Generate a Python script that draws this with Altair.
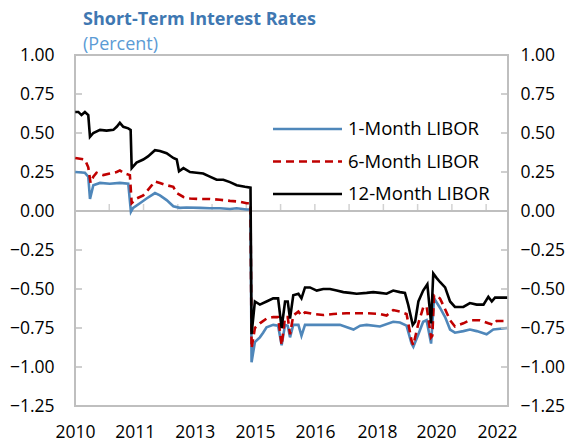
import altair as alt
import pandas as pd

FONT = "Open Sans"

title_text = "Short-Term Interest Rates"
subtitle_text = "(Percent)"
series_names = ["1-Month LIBOR", "6-Month LIBOR", "12-Month LIBOR"]
series_colors = ["#4F87BA", "#C00000", "#000000"]

# 1-Month LIBOR (percent)
m1_dates = [
    "2010-01-04", "2010-04-15", "2010-05-20", "2010-06-07", "2010-07-12", "2010-09-20",
    "2011-01-01", "2011-04-16", "2011-07-13", "2011-08-10", "2011-09-02", "2011-11-12",
    "2012-01-21", "2012-04-18", "2012-06-09", "2012-08-18", "2012-10-27", "2013-01-04",
    "2013-03-14", "2013-08-03", "2013-11-14", "2014-02-28", "2014-06-13", "2014-08-22",
    "2014-12-05", "2015-01-14", "2015-01-25", "2015-03-01", "2015-04-22", "2015-05-26",
    "2015-07-01", "2015-09-09", "2015-10-30", "2015-12-06", "2016-01-11", "2016-02-08",
    "2016-03-03", "2016-04-06", "2016-05-30", "2016-07-01", "2016-08-07", "2017-02-14",
    "2017-08-08", "2017-12-28", "2018-03-08", "2018-05-15", "2018-10-01", "2019-02-17",
    "2019-04-29", "2019-07-07", "2019-08-28", "2019-09-16", "2019-11-08", "2019-12-28",
    "2020-02-02", "2020-03-20", "2020-04-20", "2020-06-21", "2020-08-14", "2020-10-05",
    "2020-11-25", "2021-02-21", "2021-05-01", "2021-07-11", "2021-10-23", "2022-01-01",
    "2022-05-26",
]
m1_values = [
    0.25, 0.245, 0.22, 0.077, 0.165, 0.18,
    0.175, 0.18, 0.175, -0.005, 0.02, 0.05,
    0.08, 0.115, 0.10, 0.07, 0.03, 0.02,
    0.022, 0.02, 0.018, 0.018, 0.013, 0.018,
    0.01, 0.01, -0.97, -0.84, -0.81, -0.78,
    -0.745, -0.73, -0.735, -0.86, -0.73, -0.735,
    -0.81, -0.73, -0.73, -0.80, -0.73, -0.73,
    -0.73, -0.76, -0.735, -0.73, -0.74, -0.71,
    -0.715, -0.735, -0.85, -0.87, -0.79, -0.71,
    -0.70, -0.85, -0.56, -0.62, -0.68, -0.76,
    -0.78, -0.77, -0.76, -0.77, -0.79, -0.76,
    -0.75,
]

# 6-Month LIBOR (percent)
m6_dates = [
    "2010-01-04", "2010-02-22", "2010-04-15", "2010-05-20", "2010-06-13", "2010-07-12",
    "2010-08-15", "2010-10-24", "2011-01-01", "2011-03-14", "2011-04-16", "2011-06-06",
    "2011-07-30", "2011-08-18", "2011-10-08", "2011-12-17", "2012-02-05", "2012-04-18",
    "2012-06-09", "2012-08-18", "2012-10-27", "2012-12-02", "2013-02-10", "2013-04-20",
    "2013-08-03", "2013-11-14", "2014-02-28", "2014-06-13", "2014-09-25", "2014-12-05",
    "2015-01-14", "2015-01-25", "2015-03-01", "2015-04-22", "2015-07-01", "2015-09-09",
    "2015-10-30", "2015-12-06", "2016-01-11", "2016-02-08", "2016-03-03", "2016-04-06",
    "2016-05-30", "2016-07-01", "2016-08-07", "2016-11-02", "2017-02-14", "2017-05-31",
    "2017-10-17", "2018-01-30", "2018-05-15", "2018-10-01", "2018-12-10", "2019-02-17",
    "2019-04-29", "2019-07-07", "2019-08-28", "2019-09-16", "2019-11-08", "2019-12-28",
    "2020-02-02", "2020-03-20", "2020-04-02", "2020-04-20", "2020-06-21", "2020-08-14",
    "2020-10-05", "2020-11-25", "2021-02-21", "2021-05-01", "2021-08-15", "2021-11-10",
    "2022-01-01", "2022-02-05", "2022-05-26",
]
m6_values = [
    0.34, 0.335, 0.33, 0.28, 0.18, 0.22,
    0.245, 0.23, 0.24, 0.25, 0.26, 0.24,
    0.23, 0.05, 0.08, 0.10, 0.135, 0.19,
    0.18, 0.165, 0.155, 0.115, 0.09, 0.08,
    0.077, 0.077, 0.072, 0.065, 0.06, 0.05,
    0.05, -0.88, -0.75, -0.72, -0.69, -0.68,
    -0.68, -0.86, -0.68, -0.68, -0.79, -0.67,
    -0.645, -0.67, -0.65, -0.66, -0.667, -0.66,
    -0.655, -0.655, -0.655, -0.66, -0.67, -0.635,
    -0.645, -0.66, -0.83, -0.86, -0.72, -0.62,
    -0.61, -0.81, -0.80, -0.54, -0.56, -0.63,
    -0.70, -0.74, -0.72, -0.70, -0.70, -0.72,
    -0.73, -0.705, -0.705,
]

# 12-Month LIBOR (percent)
m12_dates = [
    "2010-01-04", "2010-02-05", "2010-03-10", "2010-04-15", "2010-05-20", "2010-06-07",
    "2010-07-12", "2010-09-20", "2010-11-28", "2011-02-07", "2011-03-14", "2011-04-16",
    "2011-05-22", "2011-07-13", "2011-08-07", "2011-08-18", "2011-10-08", "2011-12-17",
    "2012-02-05", "2012-04-18", "2012-06-09", "2012-08-18", "2012-10-27", "2012-12-02",
    "2012-12-26", "2013-02-10", "2013-04-20", "2013-06-28", "2013-09-05", "2013-11-14",
    "2014-01-24", "2014-04-04", "2014-06-13", "2014-08-22", "2014-11-17", "2015-01-14",
    "2015-01-25", "2015-03-01", "2015-04-22", "2015-07-01", "2015-09-09", "2015-10-30",
    "2015-12-06", "2016-01-11", "2016-02-08", "2016-03-03", "2016-04-06", "2016-05-30",
    "2016-07-01", "2016-08-07", "2016-09-28", "2016-12-08", "2017-02-14", "2017-04-26",
    "2017-07-05", "2017-09-13", "2017-11-22", "2018-01-30", "2018-05-15", "2018-07-23",
    "2018-10-01", "2018-12-10", "2019-02-17", "2019-04-29", "2019-06-20", "2019-07-24",
    "2019-09-10", "2019-10-05", "2019-11-08", "2019-12-28", "2020-02-10", "2020-03-20",
    "2020-04-12", "2020-05-18", "2020-06-21", "2020-08-14", "2020-10-05", "2020-11-25",
    "2021-02-21", "2021-05-01", "2021-07-11", "2021-09-20", "2021-11-10", "2021-12-16",
    "2022-01-19", "2022-05-26",
]
m12_values = [
    0.635, 0.635, 0.615, 0.635, 0.615, 0.475,
    0.50, 0.52, 0.515, 0.52, 0.54, 0.565,
    0.54, 0.53, 0.52, 0.275, 0.31, 0.33,
    0.35, 0.39, 0.385, 0.37, 0.34, 0.33,
    0.255, 0.275, 0.25, 0.245, 0.24, 0.22,
    0.20, 0.20, 0.185, 0.165, 0.155, 0.15,
    -0.79, -0.58, -0.60, -0.58, -0.56, -0.56,
    -0.75, -0.58, -0.58, -0.69, -0.54, -0.53,
    -0.56, -0.49, -0.49, -0.51, -0.50, -0.50,
    -0.51, -0.52, -0.525, -0.53, -0.525, -0.52,
    -0.525, -0.53, -0.51, -0.52, -0.525, -0.60,
    -0.73, -0.71, -0.58, -0.51, -0.47, -0.72,
    -0.40, -0.43, -0.455, -0.49, -0.58, -0.615,
    -0.615, -0.59, -0.60, -0.60, -0.55, -0.58,
    -0.555, -0.555,
]

y_ticks = [1.0, 0.75, 0.5, 0.25, 0.0, -0.25, -0.5, -0.75, -1.0, -1.25]
x_label_dates = ["2010-01-01", "2011-09-20", "2013-06-10", "2015-03-03",
                 "2016-11-20", "2018-09-01", "2020-05-10", "2022-02-10"]
x_start, x_end = "2010-01-01", "2022-06-04"

W, H = 433, 351
GRID = "#BFBFBF"
AXIS_FS = 17.5
LEGEND_FS = 18.5


def dt(s):
    return alt.DateTime(year=int(s[:4]), month=int(s[5:7]), date=int(s[8:10]))


frames = []
for name, dates, vals in [(series_names[0], m1_dates, m1_values),
                          (series_names[1], m6_dates, m6_values),
                          (series_names[2], m12_dates, m12_values)]:
    frames.append(pd.DataFrame({"series": name, "date": dates, "value": vals}))
df = pd.concat(frames, ignore_index=True)

xscale = alt.Scale(domain=[dt(x_start), dt(x_end)])
yscale = alt.Scale(domain=[-1.25, 1.0], nice=False, zero=False)

# one shared date axis: year labels along the bottom, no ticks or domain line
xaxis = alt.Axis(values=[dt(s) for s in x_label_dates], format="%Y",
                 ticks=False, domain=False, grid=False, labelPadding=17,
                 labelFontSize=AXIS_FS, labelFont=FONT, labelColor="#000000",
                 labelFlush=False, labelOverlap=False, title=None)

# zero line with the year ticks standing on it
zero_line = alt.Chart(pd.DataFrame({"v": [0.0]})).mark_rule(
    color=GRID, strokeWidth=2
).encode(y=alt.Y("v:Q", scale=yscale, axis=None))

tick_dates = [d.strftime("%Y-%m-%d") for d in pd.date_range("2010-01-01", periods=13, freq="359D")]
x_ticks = alt.Chart(pd.DataFrame({"date": tick_dates, "v": 0.0})).mark_tick(
    orient="vertical", size=7, thickness=1.5, color=GRID, yOffset=-3.5
).encode(
    x=alt.X("date:T", scale=xscale, axis=xaxis),
    y=alt.Y("v:Q", scale=yscale, axis=None),
)

# inward ticks on both value axes
ytick_df = pd.DataFrame({"v": y_ticks})
left_ticks = alt.Chart(ytick_df).mark_rule(color=GRID, strokeWidth=1.5).encode(
    y=alt.Y("v:Q", scale=yscale, axis=alt.Axis(
        values=y_ticks, format=".2f", ticks=False, domain=False, grid=False,
        labelPadding=21, labelFontSize=AXIS_FS, labelFont=FONT,
        labelColor="#000000", title=None)),
    x=alt.value(0), x2=alt.value(7),
)
right_ticks = alt.Chart(ytick_df).mark_rule(color=GRID, strokeWidth=1.5).encode(
    y=alt.Y("v:Q", scale=yscale, axis=alt.Axis(
        orient="right", values=y_ticks, format=".2f", ticks=False, domain=False,
        grid=False, labelPadding=12, labelFontSize=AXIS_FS, labelFont=FONT,
        labelColor="#000000", title=None)),
    x=alt.value(W - 7), x2=alt.value(W),
)


def series_layer(i, dash=None):
    kwargs = dict(strokeWidth=2.6, color=series_colors[i], clip=True)
    if dash:
        kwargs["strokeDash"] = dash
    return alt.Chart(df).transform_filter(
        alt.datum.series == series_names[i]
    ).mark_line(**kwargs).encode(
        x=alt.X("date:T", scale=xscale, axis=xaxis),
        y=alt.Y("value:Q", scale=yscale, axis=None),
    )


line_m1 = series_layer(0)
line_m6 = series_layer(1, dash=[8, 5])
line_m12 = series_layer(2)

# legend drawn as sample strokes with labels
legend_layers = []
for i, name in enumerate(series_names):
    row_y = 74 + 32.5 * i
    ldf = pd.DataFrame({"series": [name]})
    rule_kw = dict(strokeWidth=2.6, color=series_colors[i])
    if i == 1:
        rule_kw["strokeDash"] = [8, 5]
    legend_layers.append(alt.Chart(ldf).mark_rule(**rule_kw).encode(
        x=alt.value(198), x2=alt.value(267), y=alt.value(row_y)))
    legend_layers.append(alt.Chart(ldf).mark_text(
        align="left", baseline="middle", fontSize=LEGEND_FS, font=FONT, color="#000000"
    ).encode(text="series:N", x=alt.value(273), y=alt.value(row_y)))

title = alt.Chart(pd.DataFrame({"t": [title_text]})).mark_text(
    align="left", baseline="alphabetic", fontSize=18, fontWeight="bold",
    font=FONT, color="#3F78B2"
).encode(text="t:N", x=alt.value(8), y=alt.value(-30))
subtitle = alt.Chart(pd.DataFrame({"t": [subtitle_text]})).mark_text(
    align="left", baseline="alphabetic", fontSize=18, font=FONT, color="#5B9BD5"
).encode(text="t:N", x=alt.value(8), y=alt.value(-5))

chart = alt.layer(
    zero_line, x_ticks, left_ticks, line_m1, line_m6, line_m12, right_ticks,
    *legend_layers, title, subtitle
).resolve_scale(y="independent").properties(
    width=W, height=H,
    autosize=alt.AutoSizeParams(type="none"),
    padding={"left": 75, "top": 55, "right": 64, "bottom": 41},
    background="#FFFFFF",
).configure_view(stroke=GRID, strokeWidth=2)

chart.save("out.html", embed_options={"renderer": "svg", "actions": False})
